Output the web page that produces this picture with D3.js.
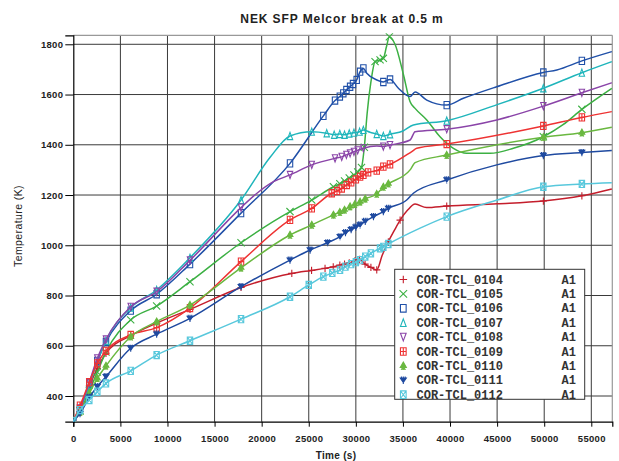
<!DOCTYPE html>
<html><head><meta charset="utf-8">
<script src="https://cdn.jsdelivr.net/npm/d3@7"></script>
<style>body{margin:0;background:#fff}svg{display:block}</style>
</head><body><svg id="c" width="619" height="461"></svg>
<script>
const title = "NEK SFP Melcor break at 0.5 m";
const xLabel = "Time (s)";
const yLabel = "Temperature (K)";
const xTicks = [0,5000,10000,15000,20000,25000,30000,35000,40000,45000,50000,55000];
const yTicks = [400,600,800,1000,1200,1400,1600,1800];
const seriesNames = ["COR-TCL_0104","COR-TCL_0105","COR-TCL_0106","COR-TCL_0107","COR-TCL_0108","COR-TCL_0109","COR-TCL_0110","COR-TCL_0111","COR-TCL_0112"];
const seriesSuffix = ["A1","A1","A1","A1","A1","A1","A1","A1","A1"];
const colors = ["#c41e2c","#3cb043","#2050a8","#1fb5bb","#8a44a8","#ee3333","#6ab840","#1f4aa0","#58c8dc"];
const markers = ["plus","x","square","triUp","triDown","squarePlus","tree","arrowDown","squareX"];

// [time (s), temperature (K)] ; a third value 0 marks a sample point that carries no symbol
const s0104 = [[0,300],[711,355],[1700,440],[2550,510],[3470,570],[6095,640],[8850,690],[12390,745],[17810,832],[23200,888],[25300,900],[26730,908],[27600,914],[28300,921],[28800,925],[29300,930],[29900,938],[30400,944],[30980,925],[31600,912],[32220,902],[32800,960,0],[33450,1014],[34100,1060,0],[34700,1100],[35500,1140,0],[36290,1164,0],[37500,1150,0],[39650,1156],[45000,1165,0],[49910,1176],[54000,1197],[57180,1224,0]];
const s0105 = [[0,300],[711,340],[1700,420],[2550,495],[3470,575],[6095,703],[8850,758],[12390,855],[17810,1010],[23010,1134],[25320,1180],[27620,1233],[28300,1245],[28800,1256],[29300,1268],[29800,1280],[30200,1292],[30600,1310],[30900,1390],[31200,1525,0],[31600,1650,0],[32040,1731],[32570,1738],[32920,1744],[33250,1790,0],[33560,1830],[34160,1800,0],[35050,1680,0],[35760,1571,0],[36290,1545,0],[37530,1499,0],[38940,1432,0],[40360,1386,0],[41780,1366,0],[44250,1366,0],[46730,1386,0],[49910,1432],[52000,1480,0],[54000,1541],[57180,1625,0]];
const s0106 = [[0,300],[711,350],[1700,450],[2550,540],[3470,615],[6095,740],[8850,805],[12390,925],[17810,1128],[23010,1326],[26550,1515],[27790,1576],[28300,1592],[28670,1605],[29000,1618],[29390,1631],[29700,1642],[30090,1658],[30450,1691],[30800,1704],[31160,1685,0],[32220,1658,0],[32920,1650],[33630,1660],[34520,1625,0],[35760,1592,0],[36290,1610,0],[37530,1578,0],[39650,1558],[41420,1585,0],[44960,1631,0],[49910,1688],[51340,1698,0],[54000,1734],[57180,1771,0]];
const s0107 = [[0,300],[711,345],[1700,445],[2550,535],[3470,620],[6095,752],[8850,822],[12390,950],[17810,1180],[20900,1350,0],[23010,1435],[25320,1452],[26910,1446],[27700,1440],[28300,1443],[28800,1440],[29300,1445],[29800,1448],[30400,1452],[30800,1459],[31500,1450,0],[32220,1443],[32920,1435],[33630,1442],[35000,1455,0],[36110,1479,0],[39650,1496],[45000,1560,0],[49910,1625],[54000,1687],[57180,1731,0]];
const s0108 = [[0,300],[711,350],[1700,455],[2550,550],[3470,625],[6095,755],[8850,815],[12390,940],[17810,1150],[19500,1207,0],[21250,1253,0],[23010,1280],[25320,1320],[27790,1346],[28500,1352],[29000,1360],[29390,1366],[29800,1372],[30200,1378],[30800,1386],[32220,1395,0],[32920,1393],[33630,1399],[35760,1419,0],[36290,1452,0],[39650,1462],[44960,1499,0],[49910,1554],[54000,1607],[57180,1647,0]];
const s0109 = [[0,300],[711,362],[1700,455],[2550,530],[3470,580],[6095,643],[8850,672],[12390,750],[17810,935],[23010,1101],[25320,1147],[27440,1207],[28000,1216],[28500,1226],[29040,1240],[29500,1250],[30000,1262],[30450,1273],[30800,1280],[31300,1290],[32220,1297],[32920,1313],[33630,1322],[35940,1373,0],[36470,1386,0],[39650,1403],[49910,1475],[54000,1509],[57180,1532,0]];
const s0110 = [[0,300],[711,335],[1700,410],[2550,470],[3470,520],[6095,636],[8850,696],[12390,762],[17810,910],[23010,1041],[25320,1081],[27620,1121],[28300,1132],[28800,1141],[29390,1154],[29900,1163],[30450,1173],[31000,1185],[32220,1204],[32920,1232],[33450,1245],[35760,1300,0],[36290,1329,0],[39650,1359],[49910,1430],[54000,1448],[57180,1470,0]];
const s0111 = [[0,300],[711,330],[1700,395],[2550,437],[3470,477],[6095,590],[8850,646],[12390,709],[17810,835],[23010,941],[25140,981],[27000,1010],[28320,1034],[28900,1050],[29500,1062],[30000,1072],[30450,1081],[31000,1095],[31870,1114],[32920,1134],[33450,1147],[35400,1180,0],[36110,1207,0],[39650,1260],[44960,1320,0],[49910,1357],[54000,1369],[57180,1377,0]];
const s0112 = [[0,300],[711,344],[1700,384],[2550,417],[3470,450],[6095,500],[8850,563],[12390,620],[17810,706],[23010,795],[25000,842],[26550,875],[27500,890],[28320,902],[28900,915],[29500,925],[30000,933],[30450,941],[31000,955],[31600,968],[32570,988],[32920,994],[33450,1005],[36820,1068,0],[39650,1114],[45000,1180,0],[49910,1233],[54000,1244],[57180,1249,0]];
const seriesData = [s0104,s0105,s0106,s0107,s0108,s0109,s0110,s0111,s0112];

const svg = d3.select("#c");
const L = 73.3, R = 612.3, T = 35.3, B = 421.7;
const x = d3.scaleLinear().domain([0, 57230]).range([L, R]);
const y = d3.scaleLinear().domain([297.7, 1835.8]).range([B, T]);

svg.append("rect").attr("width",619).attr("height",461).attr("fill","#fff");

// grid
const grid = svg.append("g").attr("stroke","#3a3a3a").attr("stroke-width",1);
xTicks.filter(d=>d>0).forEach(d=>grid.append("line").attr("x1",x(d)).attr("x2",x(d)).attr("y1",T).attr("y2",B));
yTicks.forEach(d=>grid.append("line").attr("x1",L).attr("x2",R).attr("y1",y(d)).attr("y2",y(d)));
// frame top/right
svg.append("line").attr("x1",L).attr("x2",R).attr("y1",T).attr("y2",T).attr("stroke","#999").attr("stroke-width",1.2);
svg.append("line").attr("x1",R).attr("x2",R).attr("y1",T).attr("y2",B).attr("stroke","#999").attr("stroke-width",1.2);

const tickFont = "'Liberation Sans', Arial, sans-serif";
const xAxis = svg.append("g").attr("transform",`translate(0,${B})`)
  .call(d3.axisBottom(x).tickValues(xTicks).tickFormat(d3.format("d")).tickSize(5).tickPadding(9));
const yAxis = svg.append("g").attr("transform",`translate(${L},0)`)
  .call(d3.axisLeft(y).tickValues(yTicks).tickFormat(d3.format("d")).tickSize(8).tickPadding(2));
[xAxis,yAxis].forEach(a=>{
  a.selectAll("path.domain").attr("stroke","#000").attr("stroke-width",1.2);
  a.selectAll(".tick line").attr("stroke","#000");
  a.selectAll("text").attr("font-family",tickFont).attr("font-weight","bold").attr("font-size","9.5px").attr("fill","#222").attr("letter-spacing","0.3px");
});

// clip
svg.append("clipPath").attr("id","clip").append("rect").attr("x",L).attr("y",T-2).attr("width",R-L).attr("height",B-T+2);

function markerPath(type, s){
  switch(type){
    case "plus": return `M${-s},0H${s}M0,${-s}V${s}`;
    case "x": return `M${-s},${-s}L${s},${s}M${-s},${s}L${s},${-s}`;
    case "square": return `M${-s*0.75},${-s}H${s*0.75}V${s}H${-s*0.75}Z`;
    case "triUp": return `M0,${-s}L${s*0.75},${s}H${-s*0.75}Z`;
    case "triDown": return `M0,${s}L${s*0.75},${-s}H${-s*0.75}Z`;
    case "squarePlus": return `M${-s*0.75},${-s}H${s*0.75}V${s}H${-s*0.75}ZM${-s*0.75},0H${s*0.75}M0,${-s}V${s}`;
    case "squareX": return `M${-s*0.75},${-s}H${s*0.75}V${s}H${-s*0.75}ZM${-s*0.75},${-s}L${s*0.75},${s}M${-s*0.75},${s}L${s*0.75},${-s}`;
    case "tree": return `M0,${-s}L${s*0.8},${s*0.4}H${-s*0.8}ZM0,${-s}V${s}M${-s*0.6},${s}L0,${s*0.4}L${s*0.6},${s}`;
    case "arrowDown": return `M${-s*0.8},${-s*0.6}H${s*0.8}L0,${s*0.6}ZM0,${-s}V${s}M${-s*0.5},${-s}V${-s*0.2}M${s*0.5},${-s}V${-s*0.2}`;
  }
}
const filled = {tree:true, arrowDown:true};

const line = d3.line().x(d=>x(d[0])).y(d=>y(d[1])).curve(d3.curveMonotoneX);
const plot = svg.append("g").attr("clip-path","url(#clip)");
seriesData.forEach((data,i)=>{
  const g = plot.append("g");
  g.append("path").attr("d",line(data)).attr("fill","none").attr("stroke",colors[i]).attr("stroke-width",1.5);
  g.selectAll("path.m").data(data.filter(d=>d[2]!==0)).enter().append("path").attr("class","m")
    .attr("transform",d=>`translate(${x(d[0])},${y(d[1])})`)
    .attr("d",markerPath(markers[i],3.6))
    .attr("fill",filled[markers[i]]?colors[i]:"none")
    .attr("stroke",colors[i]).attr("stroke-width",1.1);
});

// legend
const lg = svg.append("g");
lg.append("rect").attr("x",394.7).attr("y",269.3).attr("width",190).attr("height",130)
  .attr("fill","#fff").attr("stroke","#333").attr("stroke-width",1);
seriesNames.forEach((n,i)=>{
  const cy = 279.5 + i*14.4;
  lg.append("path").attr("transform",`translate(403.3,${cy})`).attr("d",markerPath(markers[i],3.8))
    .attr("fill",filled[markers[i]]?colors[i]:"none").attr("stroke",colors[i]).attr("stroke-width",1.1);
  lg.append("text").attr("x",416.5).attr("y",cy+4).text(n)
    .attr("font-family","'Liberation Mono', 'Courier New', monospace").attr("font-size","12px").attr("font-weight","bold").attr("fill","#333");
  lg.append("text").attr("x",561.5).attr("y",cy+4).text(seriesSuffix[i])
    .attr("font-family","'Liberation Mono', 'Courier New', monospace").attr("font-size","12px").attr("font-weight","bold").attr("fill","#333");
});

// titles
svg.append("text").attr("x",342).attr("y",23).attr("text-anchor","middle").text(title)
  .attr("font-family",tickFont).attr("font-weight","bold").attr("font-size","12px").attr("letter-spacing","0.9px").attr("fill","#222");
svg.append("text").attr("x",336).attr("y",459).attr("text-anchor","middle").text(xLabel)
  .attr("font-family",tickFont).attr("font-weight","bold").attr("font-size","10px").attr("letter-spacing","0.3px").attr("fill","#222");
svg.append("text").attr("transform","translate(22,226) rotate(-90)").attr("text-anchor","middle").text(yLabel)
  .attr("font-family",tickFont).attr("font-size","10.5px").attr("letter-spacing","0.4px").attr("fill","#222");
</script></body></html>
